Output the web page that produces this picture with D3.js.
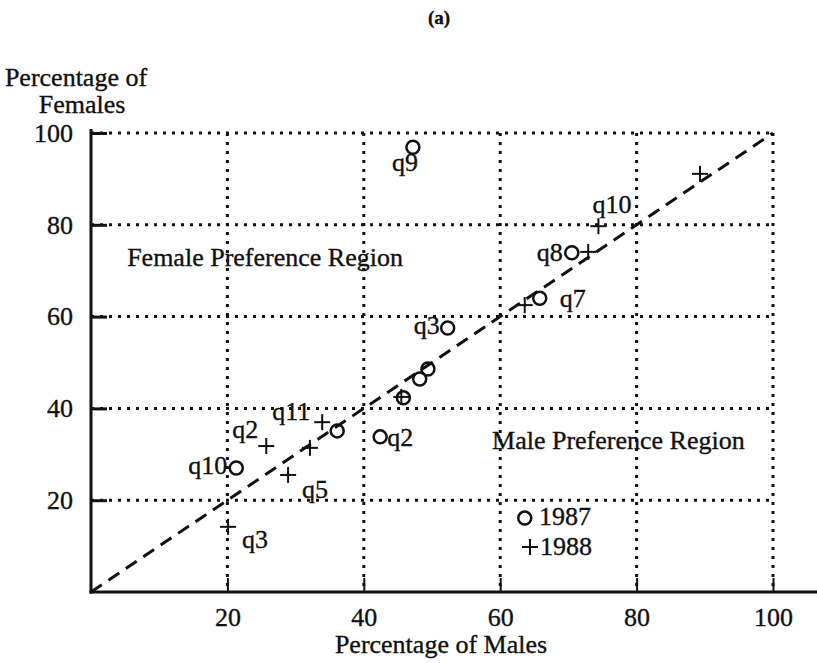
<!DOCTYPE html>
<html>
<head>
<meta charset="utf-8">
<script src="https://cdn.jsdelivr.net/npm/d3@7"></script>
<style>
  body { margin: 0; background: #fff; }
  svg { display: block; }
  text { font-family: "Liberation Serif", "Times New Roman", serif; fill: #111; stroke: #111; stroke-width: 0.35px; }
</style>
</head>
<body>
<div id="chart"></div>
<script>
// 1987 survey (circles)
var males1987   = [47.2, 70.5, 65.8, 52.3, 49.4, 48.2, 45.8, 36.1, 42.4, 21.3];
var females1987 = [96.9, 73.9, 64.0, 57.5, 48.6, 46.4, 42.3, 35.1, 33.8, 27.0];
var labels1987  = ["q9", "q8", "q7", "q3", "", "", "", "", "q2", "q10"];

// 1988 survey (plus signs)
var males1988   = [89.3, 74.4, 72.9, 63.6, 45.5, 33.9, 32.1, 25.7, 28.9, 20.1];
var females1988 = [91.1, 79.7, 74.1, 62.5, 42.5, 37.0, 31.4, 31.8, 25.5, 14.2];
var labels1988  = ["", "q10", "", "", "", "q11", "", "q2", "q5", "q3"];

var tickValues = [20, 40, 60, 80, 100];

var width = 817, height = 663;
var plotLeft = 91, plotRight = 773, plotTop = 133, plotBottom = 592;

var x = d3.scaleLinear().domain([0, 100]).range([plotLeft, plotRight]);
var y = d3.scaleLinear().domain([0, 100]).range([plotBottom, plotTop]);

var svg = d3.select("#chart").append("svg")
  .attr("width", width).attr("height", height);

// label offsets [dx, dy(baseline), anchor]
var offsets = {
  "1987-q9":  [-21, 24, "start"],
  "1987-q8":  [-9, 8, "end"],
  "1987-q7":  [20, 9, "start"],
  "1987-q3":  [-8, 6, "end"],
  "1987-q2":  [7, 9, "start"],
  "1987-q10": [-9, 6, "end"],
  "1988-q10": [-6, -13, "start"],
  "1988-q11": [-12, -2, "end"],
  "1988-q2":  [-8, -8, "end"],
  "1988-q5":  [14, 23, "start"],
  "1988-q3":  [14, 21, "start"]
};

// dotted grid
svg.append("g").selectAll("line").data(tickValues).enter().append("line")
  .attr("x1", x(0)).attr("x2", x(100))
  .attr("y1", function(d) { return y(d); }).attr("y2", function(d) { return y(d); })
  .attr("stroke", "#111").attr("stroke-width", 3).attr("stroke-dasharray", "3 6");
svg.append("g").selectAll("line").data(tickValues).enter().append("line")
  .attr("y1", y(100)).attr("y2", y(0))
  .attr("x1", function(d) { return x(d); }).attr("x2", function(d) { return x(d); })
  .attr("stroke", "#111").attr("stroke-width", 3).attr("stroke-dasharray", "3 6");

// axes
var yAxis = d3.axisLeft(y).tickValues(tickValues).tickSizeInner(-16).tickSizeOuter(0).tickPadding(18);
var gy = svg.append("g").attr("transform", "translate(" + plotLeft + ",0)").call(yAxis);
var xAxis = d3.axisBottom(x).tickValues(tickValues).tickSizeInner(-14).tickSizeOuter(0).tickPadding(16);
var gx = svg.append("g").attr("transform", "translate(0," + plotBottom + ")").call(xAxis);
[gy, gx].forEach(function(g) {
  g.select(".domain").remove();
  g.selectAll("text").attr("font-family", "Liberation Serif").attr("font-size", 26).attr("fill", "#111");
});
gy.selectAll(".tick line").attr("stroke", "#111").attr("stroke-width", 3);
gx.selectAll(".tick line").attr("stroke", "#111").attr("stroke-width", 2);

svg.append("line").attr("x1", plotLeft).attr("x2", plotLeft).attr("y1", plotTop - 4).attr("y2", plotBottom + 1.5)
  .attr("stroke", "#111").attr("stroke-width", 3);
svg.append("line").attr("x1", plotLeft - 1.5).attr("x2", width).attr("y1", plotBottom).attr("y2", plotBottom)
  .attr("stroke", "#111").attr("stroke-width", 3);

// equal-preference diagonal
svg.append("line")
  .attr("x1", x(0)).attr("y1", y(0)).attr("x2", x(100)).attr("y2", y(100))
  .attr("stroke", "#111").attr("stroke-width", 3).attr("stroke-dasharray", "13 8");

function plus(g, cx, cy) {
  g.append("line").attr("x1", cx - 8).attr("x2", cx + 8).attr("y1", cy).attr("y2", cy)
    .attr("stroke", "#111").attr("stroke-width", 2);
  g.append("line").attr("x1", cx).attr("x2", cx).attr("y1", cy - 8).attr("y2", cy + 8)
    .attr("stroke", "#111").attr("stroke-width", 2);
}

var marks = svg.append("g");
males1987.forEach(function(m, i) {
  marks.append("circle").attr("cx", x(m)).attr("cy", y(females1987[i])).attr("r", 6.5)
    .attr("fill", "none").attr("stroke", "#111").attr("stroke-width", 2.5);
});
males1988.forEach(function(m, i) {
  plus(marks, x(m), y(females1988[i]));
});

function addLabels(xs, ys, labels, year) {
  labels.forEach(function(lab, i) {
    if (!lab) return;
    var o = offsets[year + "-" + lab];
    svg.append("text")
      .attr("x", x(xs[i]) + o[0]).attr("y", y(ys[i]) + o[1])
      .attr("text-anchor", o[2])
      .attr("font-size", 26)
      .text(lab);
  });
}
addLabels(males1987, females1987, labels1987, "1987");
addLabels(males1988, females1988, labels1988, "1988");

// region names
svg.append("text").attr("x", x(5.3)).attr("y", 266).attr("font-size", 26).text("Female Preference Region");
svg.append("text").attr("x", x(58.8)).attr("y", 449).attr("font-size", 26).text("Male Preference Region");

// legend
marks.append("circle").attr("cx", x(63.6)).attr("cy", y(16.1)).attr("r", 6.5)
  .attr("fill", "none").attr("stroke", "#111").attr("stroke-width", 2.5);
svg.append("text").attr("x", 539).attr("y", 525).attr("font-size", 26).text("1987");
plus(marks, 530, 547);
svg.append("text").attr("x", 540).attr("y", 555).attr("font-size", 26).text("1988");

// titles
svg.append("text").attr("x", 439).attr("y", 24).attr("text-anchor", "middle")
  .attr("font-size", 19).attr("font-weight", "bold").text("(a)");
svg.append("text").attr("x", 441).attr("y", 653).attr("text-anchor", "middle")
  .attr("font-size", 26).text("Percentage of Males");
svg.append("text").attr("x", 76).attr("y", 86).attr("text-anchor", "middle")
  .attr("font-size", 26).text("Percentage of");
svg.append("text").attr("x", 82).attr("y", 113).attr("text-anchor", "middle")
  .attr("font-size", 26).text("Females");
</script>
</body>
</html>
